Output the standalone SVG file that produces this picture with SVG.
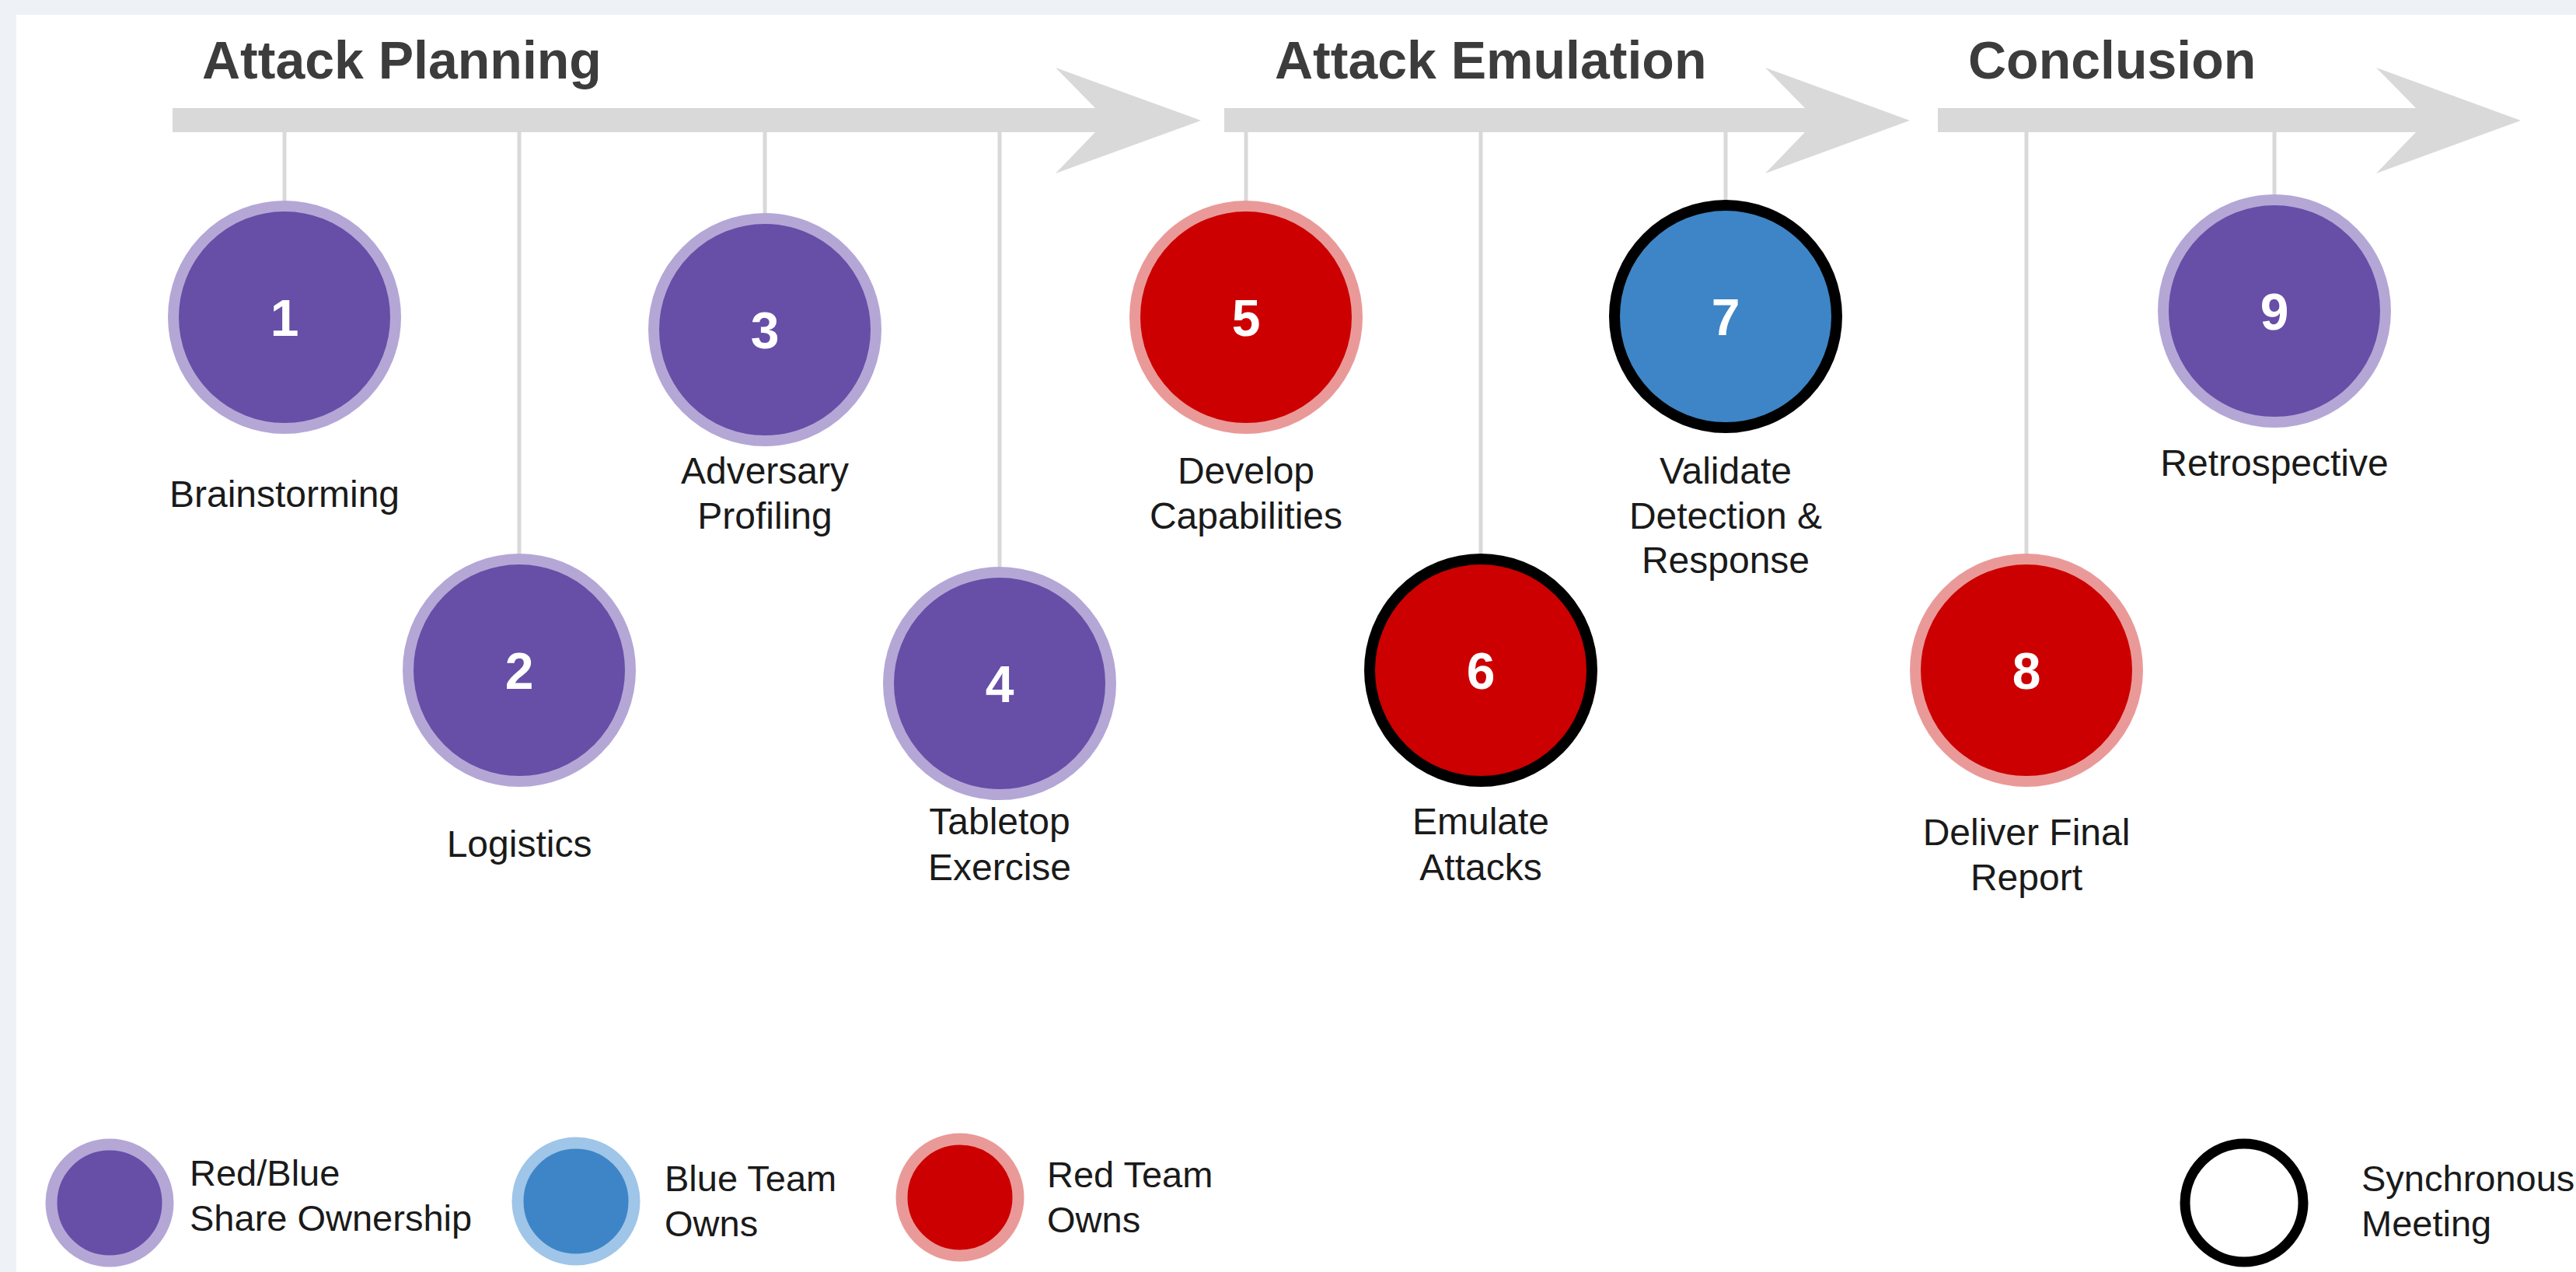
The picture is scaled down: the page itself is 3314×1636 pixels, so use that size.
<svg xmlns="http://www.w3.org/2000/svg" width="3314" height="1636" viewBox="0 0 3314 1636">
<style>
.bg{fill:#eef2f7}
.panel{fill:#ffffff}
.bar{fill:#d9d9d9}
.conn{stroke:#d9d9d9;stroke-width:5;fill:none}
.title{font-family:"Liberation Sans",Arial,sans-serif;font-weight:bold;font-size:68px;fill:#3c3c3c}
.num{font-family:"Liberation Sans",Arial,sans-serif;font-weight:bold;font-size:66px;fill:#ffffff;text-anchor:middle}
.lbl{font-family:"Liberation Sans",Arial,sans-serif;font-size:48px;fill:#1a1a1a;text-anchor:middle}
.leg{font-family:"Liberation Sans",Arial,sans-serif;font-size:47px;fill:#1a1a1a}
.purple{fill:#674ea7;stroke:#b4a7d6;stroke-width:14}
.red{fill:#cc0000;stroke:#ea9999;stroke-width:14}
.redsync{fill:#cc0000;stroke:#000000;stroke-width:14}
.bluesync{fill:#3d85c6;stroke:#000000;stroke-width:14}
.lpurple{fill:#674ea7;stroke:#b4a7d6;stroke-width:15}
.lblue{fill:#3d85c6;stroke:#9fc5e8;stroke-width:15}
.lred{fill:#cc0000;stroke:#ea9999;stroke-width:15}
.lsync{fill:#ffffff;stroke:#000000;stroke-width:13}
</style>
<rect class="bg" x="0" y="0" width="3314" height="1636"/>
<rect class="panel" x="21" y="19" width="3293" height="1617"/>

<g id="timeline">
  <polygon class="bar" points="222,139 1409,139 1358,87 1545,155 1358,223 1409,170 222,170"/>
  <polygon class="bar" points="1575,139 2322,139 2271,87 2457,155 2271,223 2322,170 1575,170"/>
  <polygon class="bar" points="2493,139 3108,139 3057,87 3243,155 3057,223 3108,170 2493,170"/>
  <text class="title" x="260" y="101">Attack Planning</text>
  <text class="title" x="1640" y="101">Attack Emulation</text>
  <text class="title" x="2532" y="101">Conclusion</text>
</g>

<g id="connectors">
  <line class="conn" x1="366" y1="170" x2="366" y2="258"/>
  <line class="conn" x1="668" y1="170" x2="668" y2="712"/>
  <line class="conn" x1="984" y1="170" x2="984" y2="274"/>
  <line class="conn" x1="1286" y1="170" x2="1286" y2="729"/>
  <line class="conn" x1="1603" y1="170" x2="1603" y2="258"/>
  <line class="conn" x1="1905" y1="170" x2="1905" y2="712"/>
  <line class="conn" x1="2220" y1="170" x2="2220" y2="258"/>
  <line class="conn" x1="2607" y1="170" x2="2607" y2="712"/>
  <line class="conn" x1="2926" y1="170" x2="2926" y2="250"/>
</g>

<g id="node1">
  <circle class="purple" cx="366" cy="408" r="143"/>
  <text class="num" x="366" y="432">1</text>
  <text class="lbl" x="366" y="652">Brainstorming</text>
</g>
<g id="node2">
  <circle class="purple" cx="668" cy="862" r="143"/>
  <text class="num" x="668" y="886">2</text>
  <text class="lbl" x="668" y="1102">Logistics</text>
</g>
<g id="node3">
  <circle class="purple" cx="984" cy="424" r="143"/>
  <text class="num" x="984" y="448">3</text>
  <text class="lbl" x="984" y="622">Adversary</text>
  <text class="lbl" x="984" y="680">Profiling</text>
</g>
<g id="node4">
  <circle class="purple" cx="1286" cy="879" r="143"/>
  <text class="num" x="1286" y="903">4</text>
  <text class="lbl" x="1286" y="1073">Tabletop</text>
  <text class="lbl" x="1286" y="1132">Exercise</text>
</g>
<g id="node5">
  <circle class="red" cx="1603" cy="408" r="143"/>
  <text class="num" x="1603" y="432">5</text>
  <text class="lbl" x="1603" y="622">Develop</text>
  <text class="lbl" x="1603" y="680">Capabilities</text>
</g>
<g id="node6">
  <circle class="redsync" cx="1905" cy="862" r="143"/>
  <text class="num" x="1905" y="886">6</text>
  <text class="lbl" x="1905" y="1073">Emulate</text>
  <text class="lbl" x="1905" y="1132">Attacks</text>
</g>
<g id="node7">
  <circle class="bluesync" cx="2220" cy="407" r="143"/>
  <text class="num" x="2220" y="431">7</text>
  <text class="lbl" x="2220" y="622">Validate</text>
  <text class="lbl" x="2220" y="680">Detection &amp;</text>
  <text class="lbl" x="2220" y="737">Response</text>
</g>
<g id="node8">
  <circle class="red" cx="2607" cy="862" r="143"/>
  <text class="num" x="2607" y="886">8</text>
  <text class="lbl" x="2607" y="1087">Deliver Final</text>
  <text class="lbl" x="2607" y="1145">Report</text>
</g>
<g id="node9">
  <circle class="purple" cx="2926" cy="400" r="143"/>
  <text class="num" x="2926" y="424">9</text>
  <text class="lbl" x="2926" y="612">Retrospective</text>
</g>

<g id="legend">
  <g id="legend-shared">
    <circle class="lpurple" cx="141" cy="1547" r="75"/>
    <text class="leg" x="244" y="1525">Red/Blue</text>
    <text class="leg" x="244" y="1583">Share Ownership</text>
  </g>
  <g id="legend-blue">
    <circle class="lblue" cx="741" cy="1545" r="75"/>
    <text class="leg" x="855" y="1532">Blue Team</text>
    <text class="leg" x="855" y="1590">Owns</text>
  </g>
  <g id="legend-red">
    <circle class="lred" cx="1235" cy="1540" r="75"/>
    <text class="leg" x="1347" y="1527">Red Team</text>
    <text class="leg" x="1347" y="1585">Owns</text>
  </g>
  <g id="legend-sync">
    <circle class="lsync" cx="2887" cy="1547" r="76"/>
    <text class="leg" x="3038" y="1532">Synchronous</text>
    <text class="leg" x="3038" y="1590">Meeting</text>
  </g>
</g>
</svg>
